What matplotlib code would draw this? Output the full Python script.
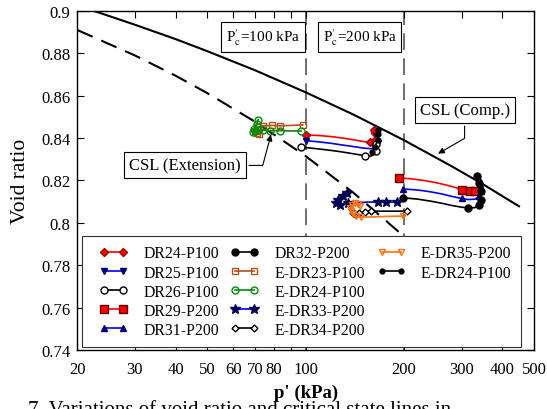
import matplotlib
matplotlib.use("Agg")
import matplotlib.pyplot as plt
from matplotlib.lines import Line2D
from matplotlib.legend_handler import HandlerLine2D

plt.rcParams['font.family'] = 'serif'
plt.rcParams['font.serif'] = ['Liberation Serif', 'DejaVu Serif']
plt.rcParams['mathtext.fontset'] = 'stix'

x_ticks = [20, 30, 40, 50, 60, 70, 80, 90, 100, 200, 300, 400, 500]
x_labels = ['20', '30', '40', '50', '60', '70', '80', '', '100', '200', '300', '400', '500']
y_ticks = [0.74, 0.76, 0.78, 0.80, 0.82, 0.84, 0.86, 0.88, 0.90]
y_labels = ['0.74', '0.76', '0.78', '0.8', '0.82', '0.84', '0.86', '0.88', '0.9']

# confining pressures (vertical guides) and their labels
pc_values = [100, 200]
pc_text_p = [74.0, 146.3]
pc_text_e = 0.8879
pc_labels = [r"P$^{\prime}_{\mathrm{c}}$=100 kPa", r"P$^{\prime}_{\mathrm{c}}$=200 kPa"]

# critical state lines
csl_comp_p = [22, 30, 40, 50, 70, 100, 140, 200, 280, 350, 450]
csl_comp_e = [0.9005, 0.8935, 0.8867, 0.8810, 0.8720, 0.8616, 0.8511, 0.8390, 0.8267, 0.8181, 0.8078]
csl_ext_p = [20, 30, 40, 50, 70, 100, 140, 200, 240]
csl_ext_e = [0.8910, 0.8790, 0.8694, 0.8612, 0.8477, 0.8315, 0.8142, 0.7936, 0.7820]

# compression tests, p'c = 100 kPa
dr24_p = [100, 110, 120, 130, 140, 150, 157, 161, 163, 164, 163, 162]
dr24_e = [0.8415, 0.8412, 0.8407, 0.8400, 0.8392, 0.8384, 0.8380, 0.8382, 0.8392, 0.8408, 0.8425, 0.8440]
dr25_p = [100, 110, 120, 130, 140, 150, 158, 163, 166, 167, 166, 165]
dr25_e = [0.8388, 0.8382, 0.8375, 0.8367, 0.8360, 0.8353, 0.8350, 0.8352, 0.8362, 0.8378, 0.8395, 0.8410]
dr26_p = [97, 105, 115, 125, 135, 145, 152, 158, 162, 164, 165, 164]
dr26_e = [0.8357, 0.8352, 0.8345, 0.8338, 0.8330, 0.8322, 0.8316, 0.8315, 0.8322, 0.8338, 0.8355, 0.8372]

# compression tests, p'c = 200 kPa
dr29_p = [193.5, 210, 230, 250, 270, 290, 300, 318, 330, 338, 340, 338]
dr29_e = [0.8212, 0.8208, 0.8200, 0.8190, 0.8178, 0.8165, 0.8157, 0.8151, 0.8152, 0.8165, 0.8185, 0.8205]
dr31_p = [199, 220, 240, 260, 280, 300, 315, 330, 340, 343, 341, 338]
dr31_e = [0.8160, 0.8155, 0.8147, 0.8137, 0.8125, 0.8115, 0.8110, 0.8112, 0.8125, 0.8150, 0.8185, 0.8215]
dr32_p = [199, 220, 240, 260, 280, 300, 315, 330, 340, 345, 344, 340, 335]
dr32_e = [0.8118, 0.8112, 0.8103, 0.8093, 0.8082, 0.8074, 0.8070, 0.8072, 0.8085, 0.8110, 0.8150, 0.8190, 0.8222]

# extension tests
edr23_p = [98, 83.4, 78.6, 74, 71, 70, 71, 72]
edr23_e = [0.8462, 0.8458, 0.8460, 0.8458, 0.8450, 0.8435, 0.8425, 0.8418]
edr24_p = [96.8, 83.4, 77.7, 74, 71.5, 70, 69, 69.5, 71, 71.5]
edr24_e = [0.8433, 0.8435, 0.8435, 0.8437, 0.8440, 0.8435, 0.8428, 0.8445, 0.8465, 0.8487]
edr33_p = [190, 176, 166, 156, 145, 135, 127, 124, 126, 130, 134]
edr33_e = [0.8098, 0.8098, 0.8098, 0.8098, 0.8096, 0.8092, 0.8085, 0.8095, 0.8110, 0.8125, 0.8140]
edr34_p = [204, 185, 170, 159, 152, 146, 142, 140]
edr34_e = [0.8055, 0.8055, 0.8055, 0.8055, 0.8052, 0.8047, 0.8042, 0.8045]
edr35_p = [199, 175, 160, 148, 143, 140, 138, 137, 139, 142, 145, 147]
edr35_e = [0.8032, 0.8030, 0.8028, 0.8027, 0.8030, 0.8040, 0.8055, 0.8070, 0.8085, 0.8095, 0.8090, 0.8080]
edr24b_p = [160, 163, 166, 167, 166]
edr24b_e = [0.8335, 0.8360, 0.8390, 0.8420, 0.8440]

runs = [
    ("DR24-P100", dr24_p, dr24_e),
    ("DR25-P100", dr25_p, dr25_e),
    ("DR26-P100", dr26_p, dr26_e),
    ("DR29-P200", dr29_p, dr29_e),
    ("DR31-P200", dr31_p, dr31_e),
    ("DR32-P200", dr32_p, dr32_e),
    ("E-DR23-P100", edr23_p, edr23_e),
    ("E-DR24-P100", edr24_p, edr24_e),
    ("E-DR33-P200", edr33_p, edr33_e),
    ("E-DR34-P200", edr34_p, edr34_e),
    ("E-DR35-P200", edr35_p, edr35_e),
    ("E-DR24-P100", edr24b_p, edr24b_e),
]
looks = [
    dict(color='red', marker='D', ms=4, mfc='red', mec='#a00000'),
    dict(color='blue', marker='v', ms=5, mfc='#000080', mec='#000080'),
    dict(color='black', marker='o', ms=5, mfc='white', mec='black'),
    dict(color='red', marker='s', ms=6, mfc='red', mec='#600000'),
    dict(color='blue', marker='^', ms=5, mfc='#000080', mec='#000080'),
    dict(color='black', marker='o', ms=5, mfc='black', mec='black'),
    dict(color='#b5531c', marker='s', ms=5, mfc='none', mec='#b5531c'),
    dict(color='#0a8a0a', marker='o', ms=5, mfc='none', mec='#0a8a0a'),
    dict(color='blue', marker='*', ms=7, mfc='#000050', mec='#000050'),
    dict(color='black', marker='D', ms=3.5, mfc='white', mec='black'),
    dict(color='#ff7010', marker='v', ms=5, mfc='none', mec='#ff7010'),
    dict(color='black', marker='o', ms=3.5, mfc='black', mec='black'),
]
marks = [
    [0, 6, 8, 10, 11],
    [0, 7, 9, 11],
    [0, 6, 9, 11],
    [0, 6, 7, 8],
    [0, 5, 8, 9, 10, 11],
    [0, 6, 8, 9, 10, 11, 12],
    [0, 1, 2, 3, 4, 5, 6, 7],
    [0, 1, 2, 3, 4, 5, 6, 7, 8, 9],
    [0, 1, 2, 5, 6, 7, 8, 9, 10],
    [0, 3, 4, 5, 6, 7],
    [0, 3, 4, 5, 6, 7, 8, 9, 10, 11],
    [0, 1, 2, 3, 4],
]

fig = plt.figure(figsize=(5.47, 4.10), dpi=100)
ax = fig.add_axes([0.1415, 0.144, 0.8347, 0.8268])
ax.set_xscale('log')

ax.plot(csl_comp_p, csl_comp_e, color='black', lw=1.5, zorder=2)
ax.plot(csl_ext_p, csl_ext_e, color='black', lw=1.5, ls=(0, (8, 4.5)), zorder=2)
for pc in pc_values:
    ax.axvline(pc, color='#555555', lw=1.2, ls=(0, (10, 5)), zorder=1)

handles = []
for (label, p, e), look, me in zip(runs, looks, marks):
    ax.plot(p, e, lw=1.2, markevery=me, zorder=3, **look)
    handles.append(Line2D([], [], lw=1.2, label=label, **look))
handles += [Line2D([], [], ls='none', marker='none', label=' ') for _ in range(3)]

leg = ax.legend(handles=handles, ncol=3, loc='upper left',
                bbox_to_anchor=(0.0101, 0.0177, 0.9614, 0.3186), mode='expand',
                borderaxespad=0, fontsize=11.3, handlelength=2.8, handletextpad=0.5,
                labelspacing=0.2, borderpad=0.6, fancybox=False, framealpha=1,
                edgecolor='#333333',
                handler_map={Line2D: HandlerLine2D(marker_pad=0.8, numpoints=2)})
leg.get_frame().set_linewidth(0.8)
leg.set_zorder(5)

box = dict(boxstyle='square,pad=0.3', fc='white', ec='black', lw=0.8)
for tp, lab in zip(pc_text_p, pc_labels):
    ax.text(tp, pc_text_e, lab, ha='center', va='center', fontsize=11, bbox=box, zorder=4)

ax.annotate('CSL (Extension)', xy=(78.7, 0.8429), xytext=(42.7, 0.8271),
            ha='center', va='center', fontsize=12, bbox=box, zorder=4,
            arrowprops=dict(arrowstyle='-|>', color='black', lw=0.8, mutation_scale=9,
                            connectionstyle='angle,angleA=0,angleB=75,rad=0'))
ax.annotate('CSL (Comp.)', xy=(250, 0.832), xytext=(306.6, 0.8533),
            ha='center', va='center', fontsize=12, bbox=box, zorder=4,
            arrowprops=dict(arrowstyle='-|>', color='black', lw=0.8, mutation_scale=9,
                            connectionstyle='angle,angleA=90,angleB=30,rad=0'))

ax.set_xlim(20, 500)
ax.set_ylim(0.74, 0.9)
ax.set_xticks(x_ticks, x_labels)
ax.set_xticks([], minor=True)
ax.set_yticks(y_ticks, y_labels)
ax.tick_params(which='both', direction='in', top=True, right=True, length=5,
               width=0.8, labelsize=12)
ax.tick_params(axis='x', pad=8)
ax.tick_params(axis='y', pad=5)
for s in ax.spines.values():
    s.set_linewidth(1.0)

ax.set_xlabel("p' (kPa)", fontsize=13.5, fontweight='bold', labelpad=5)
ax.set_ylabel("Void ratio", fontsize=15.5, labelpad=8)

# caption line, cut off at the bottom edge as in the source picture
fig.text(28 / 547, 9 / 410, "7. Variations of void ratio and critical state lines in",
         fontsize=15, va='top', ha='left')

fig.savefig('out.png', dpi=100)
